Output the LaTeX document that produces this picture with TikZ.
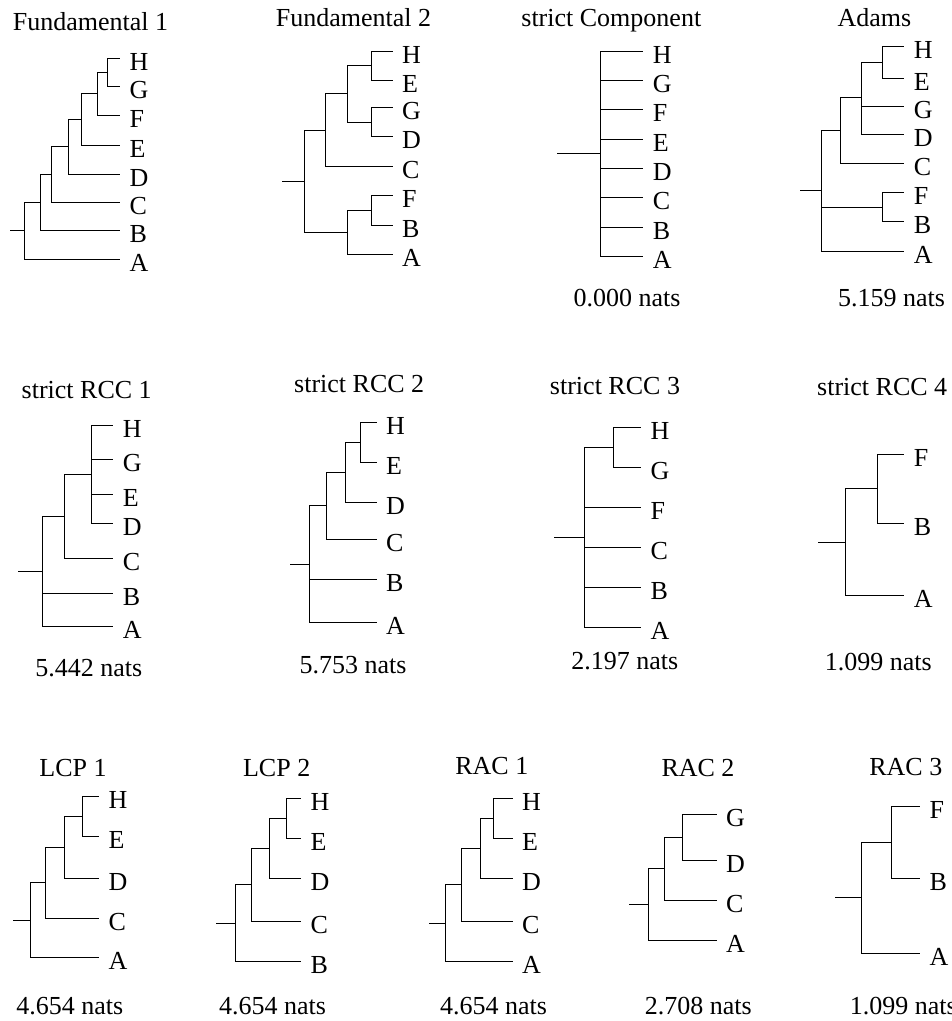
\documentclass[tikz,border=0pt]{standalone}
\usepackage{fontspec}
\setmainfont{Liberation Serif}

\tikzset{
  leaf/.style = { anchor = west
                , inner xsep = 9pt
                , inner ysep = 0pt
                , text height = 24pt
                , text depth = 0pt
                },
  title/.style = { anchor = base
                 , inner sep = 0pt
                 }
}

\begin{document}
\begin{tikzpicture}[x=1pt, y=-1pt, line width=1pt, font=\fontsize{26}{31}\selectfont]

  \useasboundingbox (0,0) rectangle (952,1021);

  % Fundamental 1
  \node[title] (f1t) at (90.5,30) {Fundamental 1};
  \node[leaf] (f1H) at (120,58) {H};
  \node[leaf] (f1G) at (120,86) {G};
  \node[leaf] (f1F) at (120,115) {F};
  \node[leaf] (f1E) at (120,145) {E};
  \node[leaf] (f1D) at (120,174) {D};
  \node[leaf] (f1C) at (120,202) {C};
  \node[leaf] (f1B) at (120,230) {B};
  \node[leaf] (f1A) at (120,259) {A};
  \coordinate (f1n1) at (107,72);
  \coordinate (f1n2) at (97,93.5);
  \coordinate (f1n3) at (81,119.3);
  \coordinate (f1n4) at (68,146.6);
  \coordinate (f1n5) at (51,174.3);
  \coordinate (f1n6) at (40.7,202.2);
  \coordinate (f1r) at (24,230.6);
  \coordinate (f1s) at (10,230.6);
  \draw (f1n1) |- (f1H) (f1n1) |- (f1G);
  \draw (f1n2) |- (f1n1) (f1n2) |- (f1F);
  \draw (f1n3) |- (f1n2) (f1n3) |- (f1E);
  \draw (f1n4) |- (f1n3) (f1n4) |- (f1D);
  \draw (f1n5) |- (f1n4) (f1n5) |- (f1C);
  \draw (f1n6) |- (f1n5) (f1n6) |- (f1B);
  \draw (f1r) |- (f1n6) (f1r) |- (f1A);
  \draw (f1s) -- (f1r);

  % Fundamental 2
  \node[title] (f2t) at (353.5,26) {Fundamental 2};
  \node[leaf] (f2H) at (392.7,51) {H};
  \node[leaf] (f2E) at (392.7,80.7) {E};
  \node[leaf] (f2G) at (392.7,107.3) {G};
  \node[leaf] (f2D) at (392.7,136.7) {D};
  \node[leaf] (f2C) at (392.7,166) {C};
  \node[leaf] (f2F) at (392.7,195.7) {F};
  \node[leaf] (f2B) at (392.7,225.3) {B};
  \node[leaf] (f2A) at (392.7,254.3) {A};
  \coordinate (f2n1) at (371,65.8);
  \coordinate (f2n2) at (371,122);
  \coordinate (f2n3) at (347.3,93.9);
  \coordinate (f2n4) at (325.7,130);
  \coordinate (f2n5) at (371,210.5);
  \coordinate (f2n6) at (347.3,232.4);
  \coordinate (f2r) at (304.3,181.2);
  \coordinate (f2s) at (282.3,181.2);
  \draw (f2n1) |- (f2H) (f2n1) |- (f2E);
  \draw (f2n2) |- (f2G) (f2n2) |- (f2D);
  \draw (f2n3) |- (f2n1) (f2n3) |- (f2n2);
  \draw (f2n4) |- (f2n3) (f2n4) |- (f2C);
  \draw (f2n5) |- (f2F) (f2n5) |- (f2B);
  \draw (f2n6) |- (f2n5) (f2n6) |- (f2A);
  \draw (f2r) |- (f2n4) (f2r) |- (f2n6);
  \draw (f2s) -- (f2r);

  % strict Component
  \node[title] (sct) at (611.3,26) {strict Component};
  \node[leaf] (scH) at (643.3,51) {H};
  \node[leaf] (scG) at (643.3,80.4) {G};
  \node[leaf] (scF) at (643.3,109.8) {F};
  \node[leaf] (scE) at (643.3,139.2) {E};
  \node[leaf] (scD) at (643.3,168.5) {D};
  \node[leaf] (scC) at (643.3,197.9) {C};
  \node[leaf] (scB) at (643.3,227.3) {B};
  \node[leaf] (scA) at (643.3,256.7) {A};
  \coordinate (scr) at (600,153.9);
  \coordinate (scs) at (557.3,153.9);
  \draw (scr) |- (scH) (scr) |- (scG) (scr) |- (scF) (scr) |- (scE);
  \draw (scr) |- (scD) (scr) |- (scC) (scr) |- (scB) (scr) |- (scA);
  \draw (scs) -- (scr);
  \node[title] (scv) at (627,306) {0.000 nats};

  % Adams
  \node[title] (adt) at (874.5,26) {Adams};
  \node[leaf] (adH) at (904.3,46.7) {H};
  \node[leaf] (adE) at (904.3,78.3) {E};
  \node[leaf] (adG) at (904.3,106) {G};
  \node[leaf] (adD) at (904.3,134.3) {D};
  \node[leaf] (adC) at (904.3,163.3) {C};
  \node[leaf] (adF) at (904.3,192.7) {F};
  \node[leaf] (adB) at (904.3,221.7) {B};
  \node[leaf] (adA) at (904.3,251) {A};
  \coordinate (adn1) at (882.7,62.5);
  \coordinate (adn2) at (861.7,97);
  \coordinate (adn3) at (840,130.2);
  \coordinate (adn4) at (882.7,207.2);
  \coordinate (adr) at (821,190.6);
  \coordinate (ads) at (800,190.6);
  \draw (adn1) |- (adH) (adn1) |- (adE);
  \draw (adn2) |- (adn1) (adn2) |- (adG) (adn2) |- (adD);
  \draw (adn3) |- (adn2) (adn3) |- (adC);
  \draw (adn4) |- (adF) (adn4) |- (adB);
  \draw (adr) |- (adn3) (adr) |- (adn4) (adr) |- (adA);
  \draw (ads) -- (adr);
  \node[title] (adv) at (891.5,306) {5.159 nats};

  % strict RCC 1
  \node[title] (r1t) at (86.7,398.3) {strict RCC 1};
  \node[leaf] (r1H) at (113.3,425) {H};
  \node[leaf] (r1G) at (113.3,459.3) {G};
  \node[leaf] (r1E) at (113.3,494) {E};
  \node[leaf] (r1D) at (113.3,523.3) {D};
  \node[leaf] (r1C) at (113.3,558.3) {C};
  \node[leaf] (r1B) at (113.3,593.3) {B};
  \node[leaf] (r1A) at (113.3,626.7) {A};
  \coordinate (r1n1) at (91,474.2);
  \coordinate (r1n2) at (64.3,516.3);
  \coordinate (r1r) at (42.7,571.5);
  \coordinate (r1s) at (18.3,571.5);
  \draw (r1n1) |- (r1H) (r1n1) |- (r1G) (r1n1) |- (r1E) (r1n1) |- (r1D);
  \draw (r1n2) |- (r1n1) (r1n2) |- (r1C);
  \draw (r1r) |- (r1n2) (r1r) |- (r1B) (r1r) |- (r1A);
  \draw (r1s) -- (r1r);
  \node[title] (r1v) at (88.8,676) {5.442 nats};

  % strict RCC 2
  \node[title] (r2t) at (359.2,392.7) {strict RCC 2};
  \node[leaf] (r2H) at (376.7,422.3) {H};
  \node[leaf] (r2E) at (376.7,462.3) {E};
  \node[leaf] (r2D) at (376.7,502.3) {D};
  \node[leaf] (r2C) at (376.7,539.3) {C};
  \node[leaf] (r2B) at (376.7,579.3) {B};
  \node[leaf] (r2A) at (376.7,622.3) {A};
  \coordinate (r2n1) at (360,442.3);
  \coordinate (r2n2) at (345,472.3);
  \coordinate (r2n3) at (326,505.8);
  \coordinate (r2r) at (309.3,564);
  \coordinate (r2s) at (290,564);
  \draw (r2n1) |- (r2H) (r2n1) |- (r2E);
  \draw (r2n2) |- (r2n1) (r2n2) |- (r2D);
  \draw (r2n3) |- (r2n2) (r2n3) |- (r2C);
  \draw (r2r) |- (r2n3) (r2r) |- (r2B) (r2r) |- (r2A);
  \draw (r2s) -- (r2r);
  \node[title] (r2v) at (353,673) {5.753 nats};

  % strict RCC 3
  \node[title] (r3t) at (615,394.3) {strict RCC 3};
  \node[leaf] (r3H) at (641,427.7) {H};
  \node[leaf] (r3G) at (641,467) {G};
  \node[leaf] (r3F) at (641,507.3) {F};
  \node[leaf] (r3C) at (641,547.3) {C};
  \node[leaf] (r3B) at (641,587.3) {B};
  \node[leaf] (r3A) at (641,627) {A};
  \coordinate (r3n1) at (613.3,447.3);
  \coordinate (r3r) at (584.3,537.2);
  \coordinate (r3s) at (554,537.2);
  \draw (r3n1) |- (r3H) (r3n1) |- (r3G);
  \draw (r3r) |- (r3n1) (r3r) |- (r3F) (r3r) |- (r3C) (r3r) |- (r3B) (r3r) |- (r3A);
  \draw (r3s) -- (r3r);
  \node[title] (r3v) at (624.8,669.3) {2.197 nats};

  % strict RCC 4
  \node[title] (r4t) at (882.2,395) {strict RCC 4};
  \node[leaf] (r4F) at (904.3,454.3) {F};
  \node[leaf] (r4B) at (904.3,523.3) {B};
  \node[leaf] (r4A) at (904.3,595.7) {A};
  \coordinate (r4n1) at (877.3,488.8);
  \coordinate (r4r) at (845.3,542.3);
  \coordinate (r4s) at (818.3,542.3);
  \draw (r4n1) |- (r4F) (r4n1) |- (r4B);
  \draw (r4r) |- (r4n1) (r4r) |- (r4A);
  \draw (r4s) -- (r4r);
  \node[title] (r4v) at (878.3,670) {1.099 nats};

  % LCP 1
  \node[title] (l1t) at (73,776) {LCP 1};
  \node[leaf] (l1H) at (99,796.7) {H};
  \node[leaf] (l1E) at (99,836) {E};
  \node[leaf] (l1D) at (99,878.3) {D};
  \node[leaf] (l1C) at (99,918.3) {C};
  \node[leaf] (l1A) at (99,957.7) {A};
  \coordinate (l1n1) at (82.7,816.3);
  \coordinate (l1n2) at (64.3,847.3);
  \coordinate (l1n3) at (45,882.8);
  \coordinate (l1r) at (30,920.2);
  \coordinate (l1s) at (13.3,920.2);
  \draw (l1n1) |- (l1H) (l1n1) |- (l1E);
  \draw (l1n2) |- (l1n1) (l1n2) |- (l1D);
  \draw (l1n3) |- (l1n2) (l1n3) |- (l1C);
  \draw (l1r) |- (l1n3) (l1r) |- (l1A);
  \draw (l1s) -- (l1r);
  \node[title] (l1v) at (69.7,1014) {4.654 nats};

  % LCP 2
  \node[title] (l2t) at (276.7,776) {LCP 2};
  \node[leaf] (l2H) at (301,798.3) {H};
  \node[leaf] (l2E) at (301,838.3) {E};
  \node[leaf] (l2D) at (301,878.3) {D};
  \node[leaf] (l2C) at (301,921) {C};
  \node[leaf] (l2B) at (301,961.7) {B};
  \coordinate (l2n1) at (286,818.3);
  \coordinate (l2n2) at (269.3,848.3);
  \coordinate (l2n3) at (251,884.7);
  \coordinate (l2r) at (235,923.2);
  \coordinate (l2s) at (216,923.2);
  \draw (l2n1) |- (l2H) (l2n1) |- (l2E);
  \draw (l2n2) |- (l2n1) (l2n2) |- (l2D);
  \draw (l2n3) |- (l2n2) (l2n3) |- (l2C);
  \draw (l2r) |- (l2n3) (l2r) |- (l2B);
  \draw (l2s) -- (l2r);
  \node[title] (l2v) at (272.5,1014) {4.654 nats};

  % RAC 1
  \node[title] (c1t) at (491.8,774) {RAC 1};
  \node[leaf] (c1H) at (512.7,798.3) {H};
  \node[leaf] (c1E) at (512.7,838.3) {E};
  \node[leaf] (c1D) at (512.7,878.3) {D};
  \node[leaf] (c1C) at (512.7,921) {C};
  \node[leaf] (c1A) at (512.7,961.7) {A};
  \coordinate (c1n1) at (493.3,818.3);
  \coordinate (c1n2) at (480.7,848.3);
  \coordinate (c1n3) at (461.7,884.7);
  \coordinate (c1r) at (445,923.2);
  \coordinate (c1s) at (429.3,923.2);
  \draw (c1n1) |- (c1H) (c1n1) |- (c1E);
  \draw (c1n2) |- (c1n1) (c1n2) |- (c1D);
  \draw (c1n3) |- (c1n2) (c1n3) |- (c1C);
  \draw (c1r) |- (c1n3) (c1r) |- (c1A);
  \draw (c1s) -- (c1r);
  \node[title] (c1v) at (493.5,1014) {4.654 nats};

  % RAC 2
  \node[title] (c2t) at (698,776) {RAC 2};
  \node[leaf] (c2G) at (716.7,814.3) {G};
  \node[leaf] (c2D) at (716.7,860.7) {D};
  \node[leaf] (c2C) at (716.7,900) {C};
  \node[leaf] (c2A) at (716.7,940) {A};
  \coordinate (c2n1) at (682.7,837.5);
  \coordinate (c2n2) at (664.3,868.8);
  \coordinate (c2r) at (648.3,904.4);
  \coordinate (c2s) at (629.3,904.4);
  \draw (c2n1) |- (c2G) (c2n1) |- (c2D);
  \draw (c2n2) |- (c2n1) (c2n2) |- (c2C);
  \draw (c2r) |- (c2n2) (c2r) |- (c2A);
  \draw (c2s) -- (c2r);
  \node[title] (c2v) at (698.3,1014) {2.708 nats};

  % RAC 3
  \node[title] (c3t) at (905.8,775) {RAC 3};
  \node[leaf] (c3F) at (920,806.7) {F};
  \node[leaf] (c3B) at (920,878.3) {B};
  \node[leaf] (c3A) at (920,953.3) {A};
  \coordinate (c3n1) at (891.7,842.5);
  \coordinate (c3r) at (861.7,897.9);
  \coordinate (c3s) at (835,897.9);
  \draw (c3n1) |- (c3F) (c3n1) |- (c3B);
  \draw (c3r) |- (c3n1) (c3r) |- (c3A);
  \draw (c3s) -- (c3r);
  \node[title, anchor=base west] (c3v) at (849.3,1014) {1.099 nats};

\end{tikzpicture}
\end{document}
